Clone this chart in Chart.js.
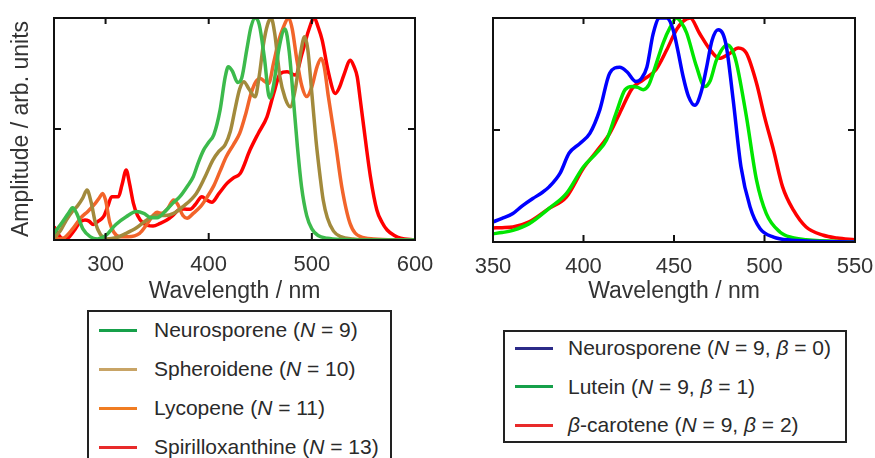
<!DOCTYPE html>
<html><head><meta charset="utf-8">
<script src="https://cdn.jsdelivr.net/npm/chart.js@4.4.0/dist/chart.umd.min.js"></script>
<style>
html,body{margin:0;padding:0;background:#fff;width:875px;height:458px;overflow:hidden;font-family:"Liberation Sans",Arial,sans-serif;}
#c1{position:absolute;left:0;top:0;}
#c2{position:absolute;left:440px;top:0;}
.legend{position:absolute;border:2px solid #222;box-sizing:border-box;color:#2a2a2a;font-size:21px;}
.row{position:absolute;left:0;height:24px;line-height:24px;white-space:nowrap;}
.sw{position:absolute;top:10.5px;width:38px;height:3px;}
.tx{position:absolute;top:0;}
</style></head>
<body>
<canvas id="c1" width="440" height="305"></canvas>
<canvas id="c2" width="435" height="305"></canvas>
<div class="legend" id="lg1" style="left:87px;top:310px;width:305px;height:160px;"></div>
<div class="legend" id="lg2" style="left:503px;top:330px;width:344px;height:113px;"></div>
<script>
// ---- Left panel data: [wavelength nm, amplitude] ----
const neurosporeneN9 = [[250,0.03],[258,0.08],[264,0.12],[268,0.145],[272,0.12],[278,0.05],[285,0.015],[292,0.005],[300,0.02],[310,0.07],[320,0.105],[330,0.128],[337,0.12],[344,0.1],[350,0.1],[358,0.13],[365,0.165],[372,0.195],[379,0.24],[385,0.285],[390,0.35],[395,0.405],[400,0.44],[405,0.475],[411,0.585],[416,0.735],[419,0.78],[423,0.76],[428,0.71],[432,0.73],[437,0.86],[441,0.96],[445,1.0],[449,0.97],[454,0.82],[459,0.64],[463,0.70],[468,0.86],[474,0.95],[478,0.85],[482,0.64],[486,0.42],[490,0.24],[495,0.11],[500,0.05],[506,0.02],[515,0.008],[530,0.002],[550,0],[600,0]];
const spheroideneN10 = [[250,0.01],[256,0.04],[262,0.09],[268,0.13],[273,0.155],[278,0.19],[282,0.225],[286,0.17],[290,0.08],[295,0.025],[301,0.005],[310,0.01],[320,0.03],[330,0.055],[340,0.09],[348,0.11],[358,0.11],[366,0.12],[375,0.15],[388,0.21],[396,0.28],[404,0.36],[410,0.40],[416,0.43],[421,0.49],[426,0.60],[430,0.68],[434,0.713],[439,0.68],[445,0.645],[449,0.74],[453,0.88],[457,0.97],[460.5,1.0],[464,0.93],[469,0.735],[474,0.64],[479,0.60],[484,0.68],[489,0.84],[493,0.915],[496,0.86],[500,0.66],[504,0.45],[508,0.285],[511,0.18],[515,0.10],[521,0.04],[528,0.015],[540,0.004],[560,0],[600,0]];
const lycopeneN11 = [[250,0.02],[255,0.005],[260,0.01],[268,0.05],[276,0.10],[283,0.13],[290,0.165],[294,0.19],[297,0.21],[300,0.18],[304,0.08],[308,0.035],[314,0.015],[322,0.015],[333,0.03],[340,0.07],[346,0.11],[350,0.125],[354,0.12],[360,0.14],[366,0.18],[370,0.16],[375,0.11],[379,0.098],[385,0.12],[392,0.15],[398,0.19],[405,0.245],[411,0.31],[417,0.375],[424,0.43],[430,0.48],[436,0.57],[441,0.66],[446,0.715],[450,0.728],[454,0.715],[458,0.705],[463,0.80],[468,0.9],[472.5,0.96],[477.5,1.0],[481,0.95],[485.5,0.81],[490.5,0.69],[495,0.646],[500,0.69],[505,0.78],[509,0.818],[512,0.78],[516,0.646],[523,0.435],[529,0.24],[537,0.075],[547,0.015],[560,0.005],[580,0.001],[600,0]];
const spirilloxanthineN13 = [[250,0.06],[255,0.02],[260.7,0.0],[265,0.015],[270,0.045],[275,0.08],[280,0.09],[284,0.085],[288,0.07],[293,0.085],[298,0.105],[302,0.15],[306,0.195],[312.5,0.195],[316,0.25],[320,0.315],[323,0.26],[327,0.165],[331,0.11],[336.7,0.075],[346,0.063],[353,0.075],[359.4,0.09],[365,0.11],[370.7,0.135],[376,0.14],[382,0.138],[387,0.16],[393.4,0.195],[398,0.18],[403,0.17],[410,0.21],[417.7,0.255],[424,0.28],[430.6,0.30],[440,0.405],[448,0.48],[456.5,0.555],[463,0.66],[469.4,0.75],[476,0.758],[484,0.743],[490.5,0.84],[497,0.946],[502.4,1.0],[506,0.96],[510,0.90],[516.3,0.75],[522.8,0.66],[527,0.69],[531,0.743],[537.4,0.81],[541,0.78],[544,0.735],[547,0.63],[550.3,0.51],[556.8,0.285],[563,0.135],[568,0.08],[573,0.045],[580,0.02],[586,0.008],[600,0]];

// ---- Right panel data ----
const neurosporeneB0 = [[350,0.09],[355,0.105],[361,0.127],[366,0.16],[372,0.194],[377,0.22],[381,0.246],[387,0.306],[392,0.396],[398,0.44],[403.5,0.485],[409,0.59],[414.5,0.754],[420,0.78],[424,0.76],[429,0.716],[432,0.73],[435,0.78],[438.5,0.93],[442,1.0],[446,1.0],[449.5,0.948],[452,0.86],[455,0.74],[458,0.65],[461.5,0.61],[465,0.67],[468,0.78],[471,0.9],[474.4,0.948],[477,0.93],[479,0.87],[482.7,0.634],[487,0.336],[492,0.157],[497.5,0.06],[505,0.022],[515,0.008],[523,0.005],[550,0]];
const luteinB1 = [[350,0.037],[355,0.042],[361,0.052],[370,0.082],[381,0.15],[390.5,0.216],[400,0.336],[407,0.396],[412.7,0.455],[418,0.575],[423,0.68],[427,0.694],[430,0.69],[433,0.68],[436,0.7],[438.5,0.754],[444,0.888],[448,0.96],[451.4,1.0],[454,0.98],[457,0.933],[462.4,0.784],[467,0.694],[470,0.72],[473.5,0.813],[479.4,0.88],[482,0.86],[484.5,0.8],[490,0.56],[495.6,0.276],[501,0.127],[508.5,0.045],[515,0.02],[523,0.01],[550,0]];
const betaCaroteneB2 = [[350,0.063],[355,0.064],[361,0.067],[370,0.09],[381,0.15],[390.5,0.2],[400,0.33],[407,0.403],[414.5,0.485],[420,0.575],[427,0.687],[433,0.724],[440,0.769],[446,0.858],[451.4,0.948],[455,0.985],[459,1.0],[464,0.933],[470,0.858],[475,0.82],[481,0.843],[485.5,0.866],[490,0.843],[495.6,0.709],[500,0.56],[505,0.41],[510,0.246],[516,0.142],[523,0.067],[532.5,0.03],[540,0.018],[550,0.01]];

// ---- Axis ticks ----
const leftTickLabels = [300,400,500,600];
const leftTickMarks = [300,400,500];
const rightTickLabels = [350,400,450,500,550];
const rightTickMarks = [400,450,500];
const yTickMarks = [0.5];

const FONT = '"Liberation Sans", Arial, sans-serif';

const framePlugin = {
  id: 'frame',
  afterDatasetsDraw(chart, args, opts) {
    const {ctx, chartArea: a, scales: {x, y}} = chart;
    ctx.save();
    ctx.strokeStyle = '#111';
    ctx.lineWidth = 2;
    ctx.strokeRect(a.left, a.top, a.right - a.left, a.bottom - a.top);
    ctx.beginPath();
    opts.xMarks.forEach(v => {
      const px = x.getPixelForValue(v);
      ctx.moveTo(px, a.bottom); ctx.lineTo(px, a.bottom - 7);
      ctx.moveTo(px, a.top); ctx.lineTo(px, a.top + 6);
    });
    opts.yMarks.forEach(v => {
      const py = y.getPixelForValue(v);
      ctx.moveTo(a.left, py); ctx.lineTo(a.left + 7, py);
      ctx.moveTo(a.right, py); ctx.lineTo(a.right - 7, py);
    });
    ctx.stroke();
    ctx.restore();
  }
};

function ds(pairs, color) {
  return {
    data: pairs.map(([x, y]) => ({x, y})),
    borderColor: color,
    borderWidth: 3.5,
    pointRadius: 0,
    fill: false,
    cubicInterpolationMode: 'monotone'
  };
}

function makeChart(id, datasets, xmin, xmax, labels, marks, yTitle, xHeight, yWidth, padRight) {
  return new Chart(document.getElementById(id), {
    type: 'line',
    data: {datasets},
    plugins: [framePlugin],
    options: {
      responsive: false,
      animation: false,
      layout: {padding: {top: 18, right: padRight, left: 0, bottom: 0}},
      plugins: {legend: {display: false}, tooltip: {enabled: false}, frame: {xMarks: marks, yMarks: yTickMarks}},
      scales: {
        x: {
          type: 'linear', min: xmin, max: xmax,
          afterBuildTicks: s => { s.ticks = labels.map(v => ({value: v})); },
          afterFit: s => { s.height = xHeight; s.paddingLeft = 0; s.paddingRight = 0; },
          grid: {display: false, drawTicks: false},
          border: {display: false},
          ticks: {font: {size: 22, family: FONT}, color: '#333', padding: 12, maxRotation: 0, autoSkip: false},
          title: {display: true, text: 'Wavelength / nm', font: {size: 23, family: FONT}, color: '#333', padding: {top: 0, bottom: 0}}
        },
        y: {
          type: 'linear', min: 0, max: 1,
          afterFit: s => { s.width = yWidth; s.paddingTop = 0; s.paddingBottom = 0; },
          grid: {display: false, drawTicks: false},
          border: {display: false},
          ticks: {display: false},
          title: {display: !!yTitle, text: yTitle || '', font: {size: 23, family: FONT}, color: '#333', padding: {top: 8, bottom: 0}}
        }
      }
    }
  });
}

makeChart('c1', [
  ds(neurosporeneN9, '#3cba4c'),
  ds(spheroideneN10, '#a28a3c'),
  ds(lycopeneN11, '#f2642a'),
  ds(spirilloxanthineN13, '#ff0000')
], 250, 600, leftTickLabels, leftTickMarks, 'Amplitude / arb. units', 65, 54, 25);

makeChart('c2', [
  ds(neurosporeneB0, '#0000ff'),
  ds(luteinB1, '#00e600'),
  ds(betaCaroteneB2, '#ff0000')
], 350, 550, rightTickLabels, rightTickMarks, '', 63, 53, 20);

// ---- Legends (HTML, for italic symbols) ----
const legend1 = [
  ['#16a04a', 'Neurosporene (<i>N</i> = 9)'],
  ['#c8a466', 'Spheroidene (<i>N</i> = 10)'],
  ['#f07c22', 'Lycopene (<i>N</i> = 11)'],
  ['#e82a2a', 'Spirilloxanthine (<i>N</i> = 13)']
];
const legend2 = [
  ['#2b2a88', 'Neurosporene (<i>N</i> = 9, <i>β</i> = 0)'],
  ['#16a04a', 'Lutein (<i>N</i> = 9, <i>β</i> = 1)'],
  ['#e82a2a', '<i>β</i>-carotene (<i>N</i> = 9, <i>β</i> = 2)']
];
function buildLegend(el, items, firstTop, step, swLeft, txLeft) {
  items.forEach(([c, t], i) => {
    const r = document.createElement('div');
    r.className = 'row';
    r.style.top = (firstTop + i * step) + 'px';
    r.innerHTML = '<div class="sw" style="left:' + swLeft + 'px;background:' + c + '"></div><div class="tx" style="left:' + txLeft + 'px">' + t + '</div>';
    el.appendChild(r);
  });
}
buildLegend(document.getElementById('lg1'), legend1, 6, 39, 10, 65);
buildLegend(document.getElementById('lg2'), legend2, 4, 38.5, 10, 63);
</script>
</body></html>
